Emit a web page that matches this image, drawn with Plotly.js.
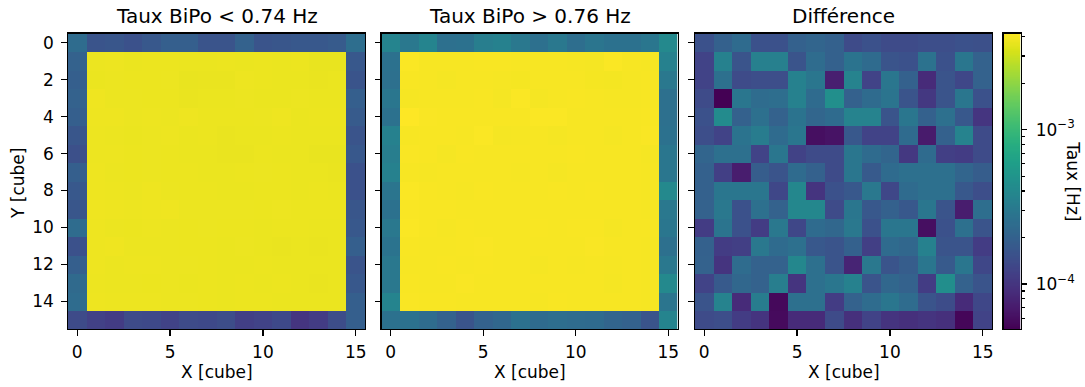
<!DOCTYPE html>
<html>
<head>
<meta charset="utf-8">
<script src="https://cdn.plot.ly/plotly-3.0.1.min.js"></script>
<style>html,body{margin:0;padding:0;background:#fff;}#chart{width:1085px;height:387px;}</style>
</head>
<body>
<div id="chart"></div>
<script>
// ---------- data (rates in mHz) ----------
const cubeX = [0,1,2,3,4,5,6,7,8,9,10,11,12,13,14,15];
const cubeY = [0,1,2,3,4,5,6,7,8,9,10,11,12,13,14,15];
const panelTitles = ['Taux BiPo < 0.74 Hz', 'Taux BiPo > 0.76 Hz', 'Différence'];
const xTickVals = [0,5,10,15];
const yTickVals = [0,2,4,6,8,10,12,14];
const cbMajorVals = [1e-4, 1e-3];
const cbMajorText = ['10<sup>−4</sup>', '10<sup>−3</sup>'];
const cbMinorVals = [6e-5,7e-5,8e-5,9e-5,2e-4,3e-4,4e-4,5e-4,6e-4,7e-4,8e-4,9e-4,2e-3,3e-3,4e-3];

const rateLow_mHz = [
 [.24,.16,.165,.153,.17,.19,.19,.16,.16,.20,.16,.165,.17,.17,.18,.25],
 [.20,3.74,3.76,3.70,3.72,3.72,3.70,3.70,3.72,3.70,3.72,3.70,3.72,3.66,3.66,.17],
 [.19,3.70,3.74,3.72,3.72,3.74,3.66,3.68,3.68,3.76,3.72,3.70,3.70,3.68,3.70,.16],
 [.20,3.80,3.74,3.74,3.72,3.72,3.68,3.70,3.70,3.74,3.70,3.70,3.74,3.70,3.70,.19],
 [.19,3.78,3.78,3.74,3.76,3.74,3.78,3.72,3.72,3.72,3.74,3.78,3.70,3.72,3.72,.18],
 [.165,3.76,3.74,3.70,3.74,3.76,3.70,3.72,3.68,3.70,3.70,3.72,3.70,3.70,3.70,.16],
 [.15,3.76,3.76,3.72,3.74,3.72,3.70,3.70,3.68,3.68,3.72,3.70,3.70,3.66,3.66,.17],
 [.19,3.78,3.74,3.72,3.74,3.72,3.72,3.70,3.70,3.72,3.74,3.72,3.70,3.70,3.68,.153],
 [.17,3.78,3.76,3.74,3.78,3.74,3.72,3.72,3.70,3.70,3.72,3.72,3.70,3.72,3.70,.153],
 [.165,3.80,3.78,3.76,3.78,3.80,3.74,3.74,3.74,3.74,3.72,3.76,3.72,3.72,3.72,.165],
 [.24,3.78,3.74,3.72,3.76,3.74,3.72,3.74,3.72,3.72,3.70,3.72,3.72,3.70,3.70,.17],
 [.153,3.78,3.80,3.74,3.74,3.74,3.72,3.72,3.70,3.74,3.70,3.68,3.70,3.68,3.70,.19],
 [.19,3.78,3.74,3.76,3.76,3.74,3.74,3.72,3.70,3.70,3.72,3.70,3.70,3.70,3.70,.16],
 [.23,3.76,3.74,3.74,3.72,3.74,3.70,3.72,3.70,3.72,3.70,3.72,3.70,3.68,3.70,.17],
 [.24,3.78,3.76,3.76,3.76,3.74,3.74,3.72,3.70,3.72,3.72,3.70,3.70,3.70,3.70,.19],
 [.138,.118,.11,.138,.135,.123,.138,.135,.142,.115,.123,.135,.10,.11,.142,.19]
];

const rateHigh_mHz = [
 [.37,.30,.37,.26,.265,.33,.35,.30,.26,.30,.25,.285,.265,.265,.29,.40],
 [.265,4.10,4.04,4.04,4.02,4.06,4.06,4.02,4.04,4.04,4.00,3.98,4.10,4.04,4.00,.35],
 [.26,4.06,4.02,3.98,4.02,4.04,4.00,3.96,4.04,4.04,4.04,3.96,3.94,4.00,4.02,.30],
 [.29,4.00,4.04,4.04,4.04,4.06,3.98,4.10,3.98,4.04,4.06,4.04,4.00,4.00,4.02,.26],
 [.265,4.20,4.08,4.06,4.06,4.06,4.06,4.06,4.10,4.10,4.04,4.04,4.04,4.04,4.06,.26],
 [.35,4.02,4.06,4.06,4.04,4.12,3.98,4.00,4.04,3.98,4.02,4.04,3.98,4.04,4.08,.265],
 [.33,4.08,4.06,3.98,4.06,4.04,4.04,4.02,4.02,4.04,4.06,4.02,4.04,4.04,3.98,.29],
 [.35,4.02,4.00,4.02,4.04,4.02,4.02,4.00,4.02,3.98,4.04,4.02,4.04,4.02,4.00,.29],
 [.285,4.10,4.06,4.04,4.00,4.06,4.02,4.02,4.04,4.06,4.04,4.06,4.04,4.02,4.00,.40],
 [.265,4.08,4.06,4.06,4.04,4.04,4.04,4.04,4.04,4.04,4.02,4.02,4.02,4.02,4.00,.30],
 [.30,4.10,4.06,4.00,4.06,4.04,4.04,4.04,4.06,4.02,4.06,4.06,3.98,4.04,4.02,.29],
 [.275,4.06,4.04,4.04,4.06,4.08,4.02,4.02,4.04,4.02,4.04,4.08,4.02,4.04,4.00,.26],
 [.30,4.04,4.04,4.06,4.04,4.06,4.02,4.04,3.98,4.02,4.00,4.02,4.00,4.02,4.00,.30],
 [.30,4.06,4.04,4.02,4.08,4.04,4.02,4.04,4.04,4.04,4.02,4.04,3.98,4.02,4.00,.40],
 [.37,4.08,4.06,4.06,4.04,4.04,4.04,4.02,4.00,4.06,4.04,4.02,4.04,4.02,4.00,.285],
 [.265,.265,.24,.20,.16,.20,.22,.265,.235,.25,.24,.235,.21,.20,.16,.37]
];

const rateDiff_mHz = [
 [.153,.197,.235,.153,.153,.197,.21,.197,.138,.153,.138,.138,.145,.145,.153,.15],
 [.123,.35,.16,.34,.34,.16,.24,.197,.275,.235,.16,.153,.27,.153,.29,.20],
 [.123,.26,.138,.145,.145,.35,.29,.074,.36,.123,.29,.197,.086,.16,.13,.20],
 [.138,.051,.29,.24,.25,.35,.235,.45,.197,.235,.28,.16,.104,.16,.29,.153],
 [.153,.42,.197,.26,.20,.275,.215,.235,.36,.36,.16,.29,.197,.26,.17,.10],
 [.145,.123,.275,.32,.235,.29,.060,.063,.17,.123,.123,.235,.070,.197,.36,.138],
 [.21,.26,.26,.123,.29,.12,.138,.138,.29,.235,.21,.104,.235,.115,.11,.138],
 [.197,.115,.072,.185,.16,.235,.197,.138,.29,.175,.235,.26,.26,.26,.21,.185],
 [.197,.29,.29,.29,.13,.39,.098,.153,.17,.30,.13,.235,.26,.26,.17,.145],
 [.20,.30,.153,.26,.20,.39,.39,.138,.29,.17,.197,.17,.29,.16,.072,.25],
 [.11,.28,.153,.11,.30,.13,.235,.22,.30,.153,.29,.29,.060,.153,.26,.16],
 [.197,.11,.115,.30,.235,.26,.17,.16,.197,.115,.235,.22,.35,.16,.16,.11],
 [.20,.098,.24,.20,.20,.39,.26,.16,.079,.30,.16,.185,.29,.175,.29,.13],
 [.123,.175,.22,.20,.33,.098,.26,.29,.35,.16,.22,.20,.11,.44,.20,.16],
 [.16,.36,.086,.32,.056,.26,.26,.11,.20,.24,.29,.24,.16,.14,.086,.13],
 [.138,.145,.11,.098,.057,.086,.086,.138,.092,.123,.098,.092,.098,.092,.054,.123]
];

// ---------- helpers ----------
const W = 1085, H = 387;
const FONT = 'DejaVu Sans';
const TICK_SIZE = 17, LABEL_SIZE = 17, TITLE_SIZE = 20;
const px = v => v / W;
const py = v => 1 - v / H;
const toLogHz = m => m.map(r => r.map(v => Math.log10(v * 1e-3)));

const allVals = [].concat(...rateLow_mHz, ...rateHigh_mHz, ...rateDiff_mHz).map(v => v * 1e-3);
const lo = Math.log10(Math.min(...allVals));
const hi = Math.log10(Math.max(...allVals));

const panels = [
  {z: rateLow_mHz, x0: 68, x1: 365},
  {z: rateHigh_mHz, x0: 381.5, x1: 677.5},
  {z: rateDiff_mHz, x0: 695, x1: 992}
];
const yTop = 33.5, yBot = 329;

const traces = [];
const layout = {
  width: W, height: H,
  margin: {l: 0, r: 0, t: 0, b: 0},
  paper_bgcolor: '#ffffff', plot_bgcolor: '#ffffff',
  font: {family: FONT, size: TICK_SIZE, color: '#000'},
  showlegend: false,
  annotations: []
};

const axBase = {
  showgrid: false, zeroline: false, showline: true, mirror: true,
  linecolor: '#000', linewidth: 1.3,
  ticks: 'outside', ticklen: 5.5, tickwidth: 1.3, tickcolor: '#000',
  tickfont: {family: FONT, size: TICK_SIZE, color: '#000'},
  fixedrange: true
};

panels.forEach((p, i) => {
  const n = i + 1;
  const sfx = n === 1 ? '' : String(n);
  traces.push({
    type: 'heatmap',
    x: cubeX, y: cubeY, z: toLogHz(p.z),
    zmin: lo, zmax: hi, colorscale: 'Viridis', showscale: false,
    xaxis: 'x' + sfx, yaxis: 'y' + sfx,
    hoverinfo: 'skip'
  });
  layout['xaxis' + sfx] = Object.assign({}, axBase, {
    domain: [px(p.x0), px(p.x1)], range: [-0.5, 15.5],
    tickmode: 'array', tickvals: xTickVals, ticklabelstandoff: 2,
    anchor: 'y' + sfx
  });
  layout['yaxis' + sfx] = Object.assign({}, axBase, {
    domain: [py(yBot), py(yTop)], range: [15.5, -0.5],
    tickmode: 'array', tickvals: yTickVals, showticklabels: n === 1, ticklabelstandoff: 4,
    anchor: 'x' + sfx
  });
  layout.annotations.push({
    text: panelTitles[i], xref: 'paper', yref: 'paper',
    x: px((p.x0 + p.x1) / 2), y: py(16), xanchor: 'center', yanchor: 'middle',
    showarrow: false, font: {family: FONT, size: TITLE_SIZE, color: '#000'}
  });
  layout.annotations.push({
    text: 'X [cube]', xref: 'paper', yref: 'paper',
    x: px((p.x0 + p.x1) / 2), y: py(372), xanchor: 'center', yanchor: 'middle',
    showarrow: false, font: {family: FONT, size: LABEL_SIZE, color: '#000'}
  });
});

layout.annotations.push({
  text: 'Y [cube]', xref: 'paper', yref: 'paper', textangle: -90,
  x: px(18), y: py(184), xanchor: 'center', yanchor: 'middle',
  showarrow: false, font: {family: FONT, size: LABEL_SIZE, color: '#000'}
});
layout.annotations.push({
  text: 'Taux [Hz]', xref: 'paper', yref: 'paper', textangle: 90,
  x: px(1073), y: py((yTop + yBot) / 2), xanchor: 'center', yanchor: 'middle',
  showarrow: false, font: {family: FONT, size: LABEL_SIZE, color: '#000'}
});

// ---------- colour bar drawn as a log-axis heatmap ----------
const N = 256;
const cbEdges = [], cbZ = [];
for (let i = 0; i <= N; i++) cbEdges.push(Math.pow(10, lo + (hi - lo) * i / N));
for (let i = 0; i < N; i++) cbZ.push([lo + (hi - lo) * (i + 0.5) / N]);
traces.push({
  type: 'heatmap', x: [0, 1], y: cbEdges, z: cbZ,
  zmin: lo, zmax: hi, colorscale: 'Viridis', showscale: false,
  xaxis: 'x4', yaxis: 'y4', hoverinfo: 'skip'
});
layout.xaxis4 = Object.assign({}, axBase, {
  domain: [px(1003.5), px(1020.5)], range: [0, 1], ticks: '', showticklabels: false, anchor: 'y4'
});
layout.yaxis4 = Object.assign({}, axBase, {
  domain: [py(yBot), py(yTop)], type: 'log', range: [lo, hi], side: 'right',
  tickmode: 'array', tickvals: cbMajorVals, ticktext: cbMajorText, ticklen: 5.5,
  ticklabelstandoff: 5,
  minor: {tickmode: 'array', tickvals: cbMinorVals, ticks: 'outside', ticklen: 3.2, tickwidth: 1.1, tickcolor: '#000', showgrid: false},
  anchor: 'x4'
});

Plotly.newPlot('chart', traces, layout, {staticPlot: true, displayModeBar: false});
</script>
</body>
</html>
